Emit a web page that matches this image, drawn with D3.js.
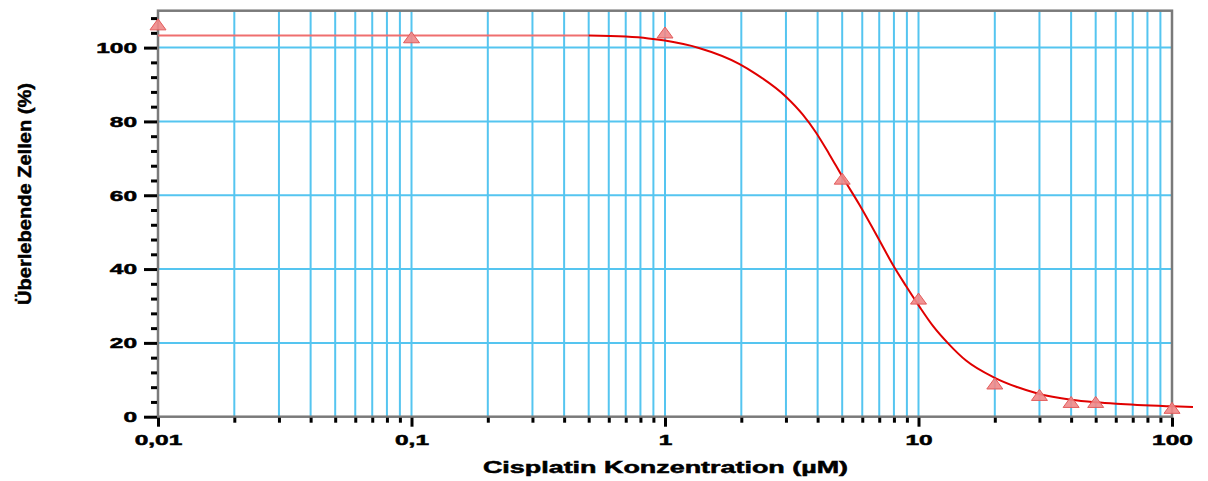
<!DOCTYPE html>
<html>
<head>
<meta charset="utf-8">
<script src="https://cdn.jsdelivr.net/npm/d3@7"></script>
<style>
  body { margin: 0; background: #fff; }
  text { font-family: "Liberation Sans", Arial, sans-serif; font-weight: bold; fill: #000; stroke: #000; stroke-width: 0.5px; }
</style>
</head>
<body>
<script>
//Width and height
var w = 1208;
var h = 481;
var plotLeft = 158, plotRight = 1172, plotTop = 10.7, plotBottom = 416.7;

// measured points (triangles)
var doseX = [0.01, 0.1, 1, 5, 10, 20, 30, 40, 50, 100];
var survivalY = [106.3, 102.8, 104.1, 64.5, 32.0, 9.0, 5.9, 4.0, 4.0, 2.4];

// fitted curve
var fitX = [0.01, 0.1, 0.3, 0.5, 0.7, 0.86, 1.0, 1.36, 1.96, 2.28, 3.0, 3.49, 3.94, 4.44, 5.01, 5.84, 7.0, 7.9, 8.93, 10.07, 11.4, 13.2, 15.4, 19.9, 24.3, 29.5, 40, 50.2, 60.3, 100, 121];
var fitY = [103.3, 103.3, 103.3, 103.3, 103.0, 102.5, 101.9, 99.9, 95.6, 92.9, 86.7, 81.9, 77.0, 71.2, 65.0, 57.5, 47.9, 41.3, 35.4, 29.9, 24.6, 19.6, 15.2, 10.6, 8.1, 6.3, 4.6, 3.9, 3.5, 2.8, 2.6];
var fitStart = 0.5; // left of this the line is drawn lighter

// ticks
var xMajor = [0.01, 0.1, 1, 10, 100];
var xLabels = ["0,01", "0,1", "1", "10", "100"];
var xMinor = [0.02, 0.03, 0.04, 0.05, 0.06, 0.07, 0.08, 0.09,
              0.2, 0.3, 0.4, 0.5, 0.6, 0.7, 0.8, 0.9,
              2, 3, 4, 5, 6, 7, 8, 9,
              20, 30, 40, 50, 60, 70, 80, 90];
var yMajor = [0, 20, 40, 60, 80, 100];
var yMinor = [4, 8, 12, 16, 24, 28, 32, 36, 44, 48, 52, 56, 64, 68, 72, 76, 84, 88, 92, 96, 104, 108];
var xGrid = [0.1, 1, 10].concat(xMinor);
var yGrid = [20, 40, 60, 80, 100];

var xTitle = "Cisplatin Konzentration (µM)";
var yTitle = "Überlebende Zellen (%)";

var xScale = d3.scaleLog().domain([0.01, 100]).range([plotLeft, plotRight]);
var yScale = d3.scaleLinear().domain([0, 110]).range([plotBottom, plotTop]);

var svg = d3.select("body").append("svg").attr("width", w).attr("height", h);

// text is drawn wide in the original
function stretch(sel, k) {
  sel.each(function () {
    var n = this.getComputedTextLength();
    d3.select(this).attr("textLength", n * k).attr("lengthAdjust", "spacingAndGlyphs");
  });
}

// grid
var gridColor = "#55c5f0";
svg.append("g").selectAll("line").data(xGrid).enter().append("line")
  .attr("x1", function (d) { return xScale(d); })
  .attr("x2", function (d) { return xScale(d); })
  .attr("y1", plotTop).attr("y2", plotBottom)
  .attr("stroke", gridColor).attr("stroke-width", 2);
svg.append("g").selectAll("line").data(yGrid).enter().append("line")
  .attr("y1", function (d) { return yScale(d); })
  .attr("y2", function (d) { return yScale(d); })
  .attr("x1", plotLeft).attr("x2", plotRight)
  .attr("stroke", gridColor).attr("stroke-width", 2);

// frame
svg.append("rect")
  .attr("x", plotLeft).attr("y", plotTop)
  .attr("width", plotRight - plotLeft).attr("height", plotBottom - plotTop)
  .attr("fill", "none").attr("stroke", "#7a7a7a").attr("stroke-width", 2.5);

// axes
var xAxis = d3.axisBottom(xScale).tickValues(xMajor).tickSize(9).tickPadding(8)
  .tickFormat(function (d, i) { return xLabels[i]; });
var xAxisMinor = d3.axisBottom(xScale).tickValues(xMinor).tickSize(5).tickFormat("");
var yAxis = d3.axisLeft(yScale).tickValues(yMajor).tickSize(13).tickPadding(7);
var yAxisMinor = d3.axisLeft(yScale).tickValues(yMinor).tickSize(6).tickFormat("");

function styleAxis(g) {
  g.select(".domain").remove();
  g.selectAll(".tick line").attr("stroke", "#000").attr("stroke-width", 3);
  g.selectAll(".tick text").attr("font-size", 15).attr("font-family", null).attr("fill", null);
}

var gx = svg.append("g").attr("transform", "translate(0," + (plotBottom + 1) + ")").call(xAxis).call(styleAxis);
svg.append("g").attr("transform", "translate(0," + (plotBottom + 1) + ")").call(xAxisMinor).call(styleAxis);
var gy = svg.append("g").attr("transform", "translate(" + (plotLeft - 1) + ",0)").call(yAxis).call(styleAxis);
svg.append("g").attr("transform", "translate(" + (plotLeft - 1) + ",0)").call(yAxisMinor).call(styleAxis);
stretch(gx.selectAll(".tick text"), 1.63);
stretch(gy.selectAll(".tick text"), 1.63);

// curve
var line = d3.line()
  .x(function (d) { return xScale(d[0]); })
  .y(function (d) { return yScale(d[1]); })
  .curve(d3.curveMonotoneX);
var fit = fitX.map(function (x, i) { return [x, fitY[i]]; });

svg.append("path")
  .datum(fit.filter(function (d) { return d[0] <= fitStart; }))
  .attr("d", line).attr("fill", "none")
  .attr("stroke", "#ef6f6f").attr("stroke-width", 2);
svg.append("path")
  .datum(fit.filter(function (d) { return d[0] >= fitStart; }))
  .attr("d", line).attr("fill", "none")
  .attr("stroke", "#e00000").attr("stroke-width", 2);

// triangles
svg.append("g").selectAll("path").data(doseX).enter().append("path")
  .attr("transform", function (d, i) {
    return "translate(" + xScale(d) + "," + yScale(survivalY[i]) + ")";
  })
  .attr("d", "M0,-5.5L8,5.5L-8,5.5Z")
  .attr("fill", "#f08888").attr("fill-opacity", 0.9)
  .attr("stroke", "#e25c5c").attr("stroke-width", 1);

// titles
var tx = svg.append("text")
  .attr("x", (483 + 848) / 2).attr("y", 473)
  .attr("text-anchor", "middle").attr("font-size", 16.5)
  .text(xTitle);
stretch(tx, 1.63);

var ty = svg.append("text")
  .attr("transform", "translate(31,194) rotate(-90)")
  .attr("text-anchor", "middle").attr("font-size", 19)
  .text(yTitle);
ty.attr("textLength", 222).attr("lengthAdjust", "spacingAndGlyphs");
</script>
</body>
</html>
